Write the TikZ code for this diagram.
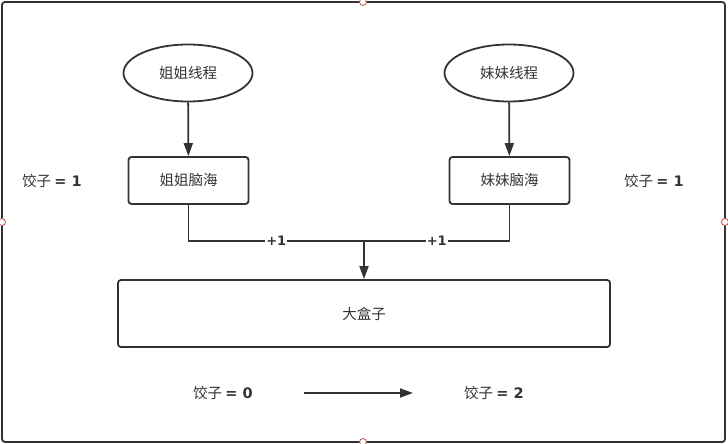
\documentclass[tikz,border=0pt]{standalone}
\usepackage{fontspec}
\setmainfont{Noto Sans CJK SC}
\newfontfamily\numfont{DejaVu Sans}
\usetikzlibrary{arrows.meta,shapes.geometric}
\definecolor{linegray}{HTML}{333333}
\definecolor{handlered}{HTML}{B85450}

\begin{document}
\begin{tikzpicture}[
    x=1pt, y=-1pt,
    >={Triangle[length=13pt,width=9pt]},
    line width=1.8pt,
    every node/.style={text=linegray, font=\fontsize{14.5}{17}\selectfont},
    thread/.style={
      ellipse,
      draw=linegray,
      minimum width=129pt,
      minimum height=57pt,
      inner sep=0pt
    },
    memory/.style={
      rectangle,
      rounded corners=3pt,
      draw=linegray,
      minimum width=120pt,
      minimum height=47pt,
      inner sep=0pt
    },
    handle/.style={
      circle,
      draw=handlered,
      fill=white,
      line width=0.8pt,
      minimum size=7pt,
      inner sep=0pt
    },
    plusone/.style={
      fill=white,
      inner sep=1pt,
      font=\numfont\bfseries\fontsize{13}{15}\selectfont
    },
  ]
  \useasboundingbox (0,0) rectangle (728,444);

  %%%%%%%%%%%%%%%%%%%%%%%%%%%%%%%%%%%%%%%%%%%%%%
  %%%%%%%%%%%%%%%% FRAME %%%%%%%%%%%%%%%%%%%%%%%
  %%%%%%%%%%%%%%%%%%%%%%%%%%%%%%%%%%%%%%%%%%%%%%
    \draw[linegray, rounded corners=3pt] (2,2) rectangle (725,442);

  %%%%%%%%%%%%%%%%%%%%%%%%%%%%%%%%%%%%%%%%%%%%%%
  %%%%%%%%%%%%%%%% ACTUAL NODES %%%%%%%%%%%%%%%%
  %%%%%%%%%%%%%%%%%%%%%%%%%%%%%%%%%%%%%%%%%%%%%%
    \node[thread] (sister-thread) at (188,73) {姐姐线程};
    \node[thread] (brother-thread) at (509,73) {妹妹线程};

    \node[memory] (sister-mind) at (188.5,180.5) {姐姐脑海};
    \node[memory] (brother-mind) at (509.5,180.5) {妹妹脑海};

    \node[memory, minimum width=492pt, minimum height=67pt] (box) at (364,313.5) {大盒子};

    \node (left-count) at (52,181) {饺子 {\numfont\bfseries = 1}};
    \node (right-count) at (654,181) {饺子 {\numfont\bfseries = 1}};

    \node (before) at (223,393) {饺子 {\numfont\bfseries = 0}};
    \node (after) at (494,393) {饺子 {\numfont\bfseries = 2}};

  %%%%%%%%%%%%%%%%%%%%%%%%%%%%%%%%%%%%%%%%%%%%%%
  %%%%%%%%%%%%%%%% HELPING NODES %%%%%%%%%%%%%%%
  %%%%%%%%%%%%%%%%%%%%%%%%%%%%%%%%%%%%%%%%%%%%%%
    \coordinate (sister-box) at (188.5,241);
    \coordinate (brother-box) at (509.5,241);
    \coordinate (join-box) at (364,241);

    \coordinate (time-start) at (304,393);
    \coordinate (time-end) at (413,393);

    \node[handle] (handle-top) at (363,2) {};
    \node[handle] (handle-left) at (2,222) {};
    \node[handle] (handle-right) at (725,222) {};
    \node[handle] (handle-bottom) at (363,442) {};

  %%%%%%%%%%%%%%%%%%%%%%%%%%%%%%%%%%%%%%%%%%%%%%
  %%%%%%%%%%%%%%%%%% PATHS %%%%%%%%%%%%%%%%%%%%%
  %%%%%%%%%%%%%%%%%%%%%%%%%%%%%%%%%%%%%%%%%%%%%%
    \path[->, draw=linegray] (sister-thread) -- (sister-mind);
    \path[->, draw=linegray] (brother-thread) -- (brother-mind);

    \path[-, draw=linegray] (sister-mind) -- (sister-box) -- (join-box)
      node[pos=0.5, plusone] {+1};
    \path[-, draw=linegray] (brother-mind) -- (brother-box) -- (join-box)
      node[pos=0.5, plusone] {+1};
    \path[->, draw=linegray] (join-box) -- (box);

    \path[->, draw=linegray] (time-start) -- (time-end);

  \end{tikzpicture}
\end{document}
